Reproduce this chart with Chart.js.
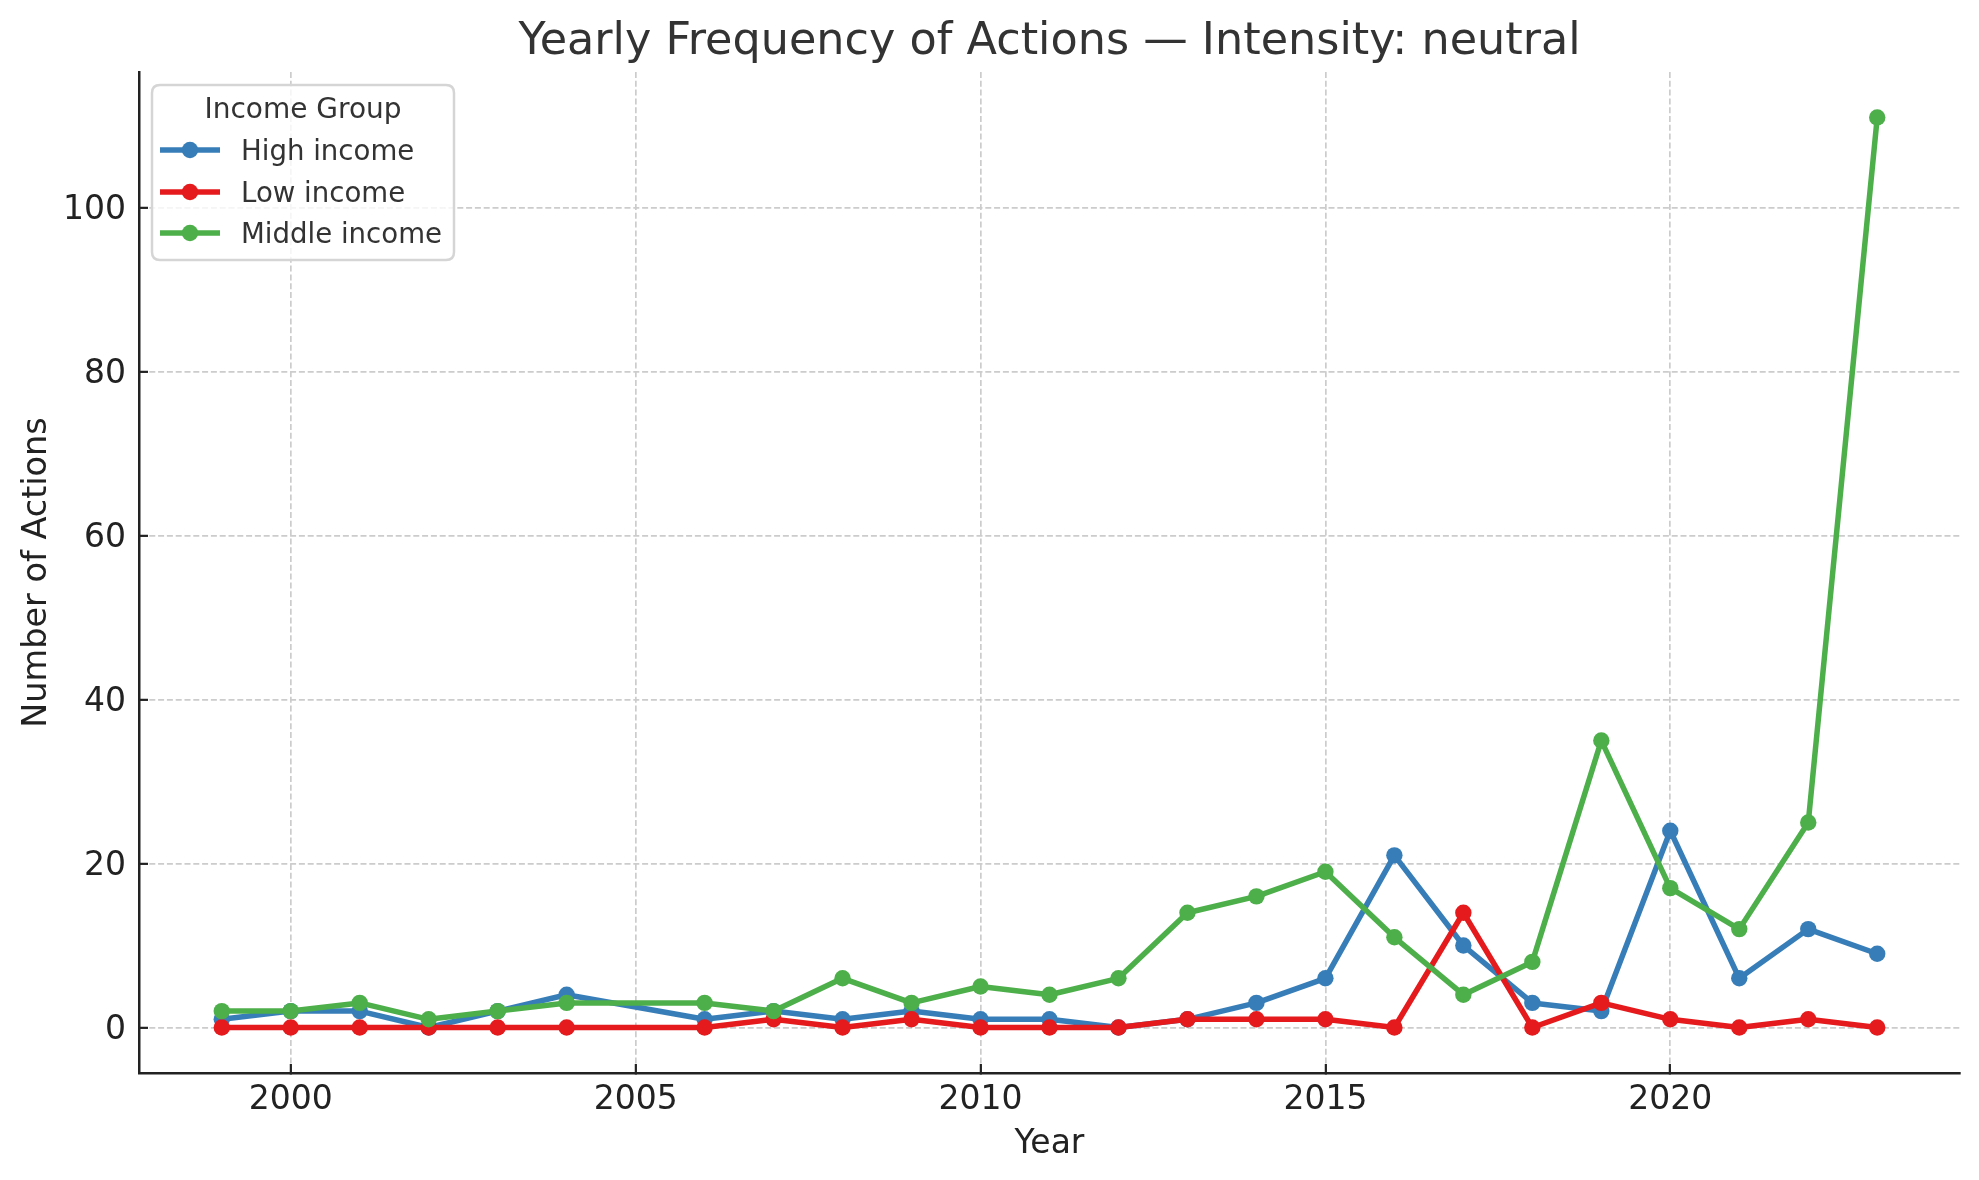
<!DOCTYPE html>
<html>
<head>
<meta charset="utf-8">
<script src="https://cdn.jsdelivr.net/npm/chart.js@4.4.1/dist/chart.umd.min.js"></script>
<style>
  html, body { margin: 0; padding: 0; background: #ffffff; }
  #c { display: block; }
</style>
</head>
<body>
<canvas id="c" width="1979" height="1180"></canvas>
<script>
// ---- data (2005 has no observation) ----
const years        = [1999,2000,2001,2002,2003,2004,2006,2007,2008,2009,2010,2011,2012,2013,2014,2015,2016,2017,2018,2019,2020,2021,2022,2023];
const highIncome   = [1,2,2,0,2,4,1,2,1,2,1,1,0,1,3,6,21,10,3,2,24,6,12,9];
const lowIncome    = [0,0,0,0,0,0,0,1,0,1,0,0,0,1,1,1,0,14,0,3,1,0,1,0];
const middleIncome = [2,2,3,1,2,3,3,2,6,3,5,4,6,14,16,19,11,4,8,35,17,12,25,111];
const seriesNames  = ['High income','Low income','Middle income'];
const xTickValues  = [2000,2005,2010,2015,2020];
const yTickValues  = [0,20,40,60,80,100];

const FONT = "'DejaVu Sans', 'Liberation Sans', sans-serif";
const colors = ['#377eb8', '#e41a1c', '#4daf4a'];

function pts(vals) { return years.map((x, i) => ({ x: x, y: vals[i] })); }

const seriesVals = [highIncome, lowIncome, middleIncome];
const datasets = seriesNames.map((name, i) => ({
  label: name,
  data: pts(seriesVals[i]),
  borderColor: colors[i],
  backgroundColor: colors[i],
  pointBackgroundColor: colors[i],
  pointBorderColor: colors[i],
  pointBorderWidth: 0,
  pointRadius: 8.2,
  pointHoverRadius: 8.2,
  borderWidth: 5.5,
  borderJoinStyle: 'round',
  tension: 0,
  fill: false,
  order: 3 - i
}));

const legendPlugin = {
  id: 'mplLegend',
  afterDatasetsDraw(chart) {
    const ctx = chart.ctx;
    const x0 = 152, y0 = 85, x1 = 454, y1 = 260, r = 8;
    ctx.save();
    ctx.beginPath();
    ctx.moveTo(x0 + r, y0);
    ctx.lineTo(x1 - r, y0);
    ctx.quadraticCurveTo(x1, y0, x1, y0 + r);
    ctx.lineTo(x1, y1 - r);
    ctx.quadraticCurveTo(x1, y1, x1 - r, y1);
    ctx.lineTo(x0 + r, y1);
    ctx.quadraticCurveTo(x0, y1, x0, y1 - r);
    ctx.lineTo(x0, y0 + r);
    ctx.quadraticCurveTo(x0, y0, x0 + r, y0);
    ctx.closePath();
    ctx.fillStyle = 'rgba(255,255,255,0.8)';
    ctx.fill();
    ctx.lineWidth = 2.5;
    ctx.strokeStyle = '#d5d5d5';
    ctx.stroke();

    ctx.fillStyle = '#333333';
    ctx.font = '28px ' + FONT;
    ctx.textAlign = 'center';
    ctx.textBaseline = 'middle';
    ctx.fillText('Income Group', (x0 + x1) / 2, 111);

    ctx.font = '27.6px ' + FONT;
    const rows = [150, 192, 233];
    chart.data.datasets.forEach((ds, i) => {
      const y = rows[i];
      ctx.strokeStyle = ds.borderColor;
      ctx.lineWidth = 5.5;
      ctx.beginPath();
      ctx.moveTo(160, y);
      ctx.lineTo(220, y);
      ctx.stroke();
      ctx.fillStyle = ds.borderColor;
      ctx.beginPath();
      ctx.arc(190, y, 8.2, 0, Math.PI * 2);
      ctx.fill();
      ctx.fillStyle = '#333333';
      ctx.textAlign = 'left';
      ctx.fillText(ds.label, 241, y + 3);
    });
    ctx.restore();
  }
};

const gridOpts = {
  color: '#cccccc',
  lineWidth: 1.7,
  drawTicks: true,
  tickLength: -9,
  tickColor: '#222222',
  tickWidth: 2.2,
  tickBorderDash: []
};
const borderOpts = { display: true, color: '#222222', width: 2.5, dash: [6, 2.8] };

new Chart(document.getElementById('c'), {
  type: 'line',
  data: { datasets: datasets },
  plugins: [legendPlugin],
  options: {
    responsive: false,
    devicePixelRatio: 1,
    animation: false,
    layout: { padding: { left: 0, right: 19, top: 0, bottom: 0 } },
    plugins: {
      legend: { display: false },
      tooltip: { enabled: false },
      title: {
        display: true,
        fullSize: false,
        text: 'Yearly Frequency of Actions \u2014 Intensity: neutral',
        color: '#333333',
        font: { family: FONT, size: 44.5, weight: 'normal', lineHeight: 1.2 },
        padding: { top: 15.6, bottom: 3.0 }
      }
    },
    scales: {
      x: {
        type: 'linear',
        position: 'bottom',
        min: 1997.8,
        max: 2024.2,
        afterBuildTicks: s => { s.ticks = xTickValues.map(v => ({ value: v })); },
        afterFit: s => { s.height = 107; },
        ticks: {
          callback: v => String(v),
          color: '#222222',
          font: { family: FONT, size: 33 },
          padding: 17,
          maxRotation: 0,
          autoSkip: false
        },
        grid: Object.assign({}, gridOpts),
        border: Object.assign({}, borderOpts),
        title: {
          display: true,
          text: 'Year',
          color: '#222222',
          font: { family: FONT, size: 33, lineHeight: 1.2 },
          padding: { top: 0, bottom: 15.5 }
        }
      },
      y: {
        type: 'linear',
        position: 'left',
        min: -5.55,
        max: 116.55,
        afterBuildTicks: s => { s.ticks = yTickValues.map(v => ({ value: v })); },
        afterFit: s => { s.width = 139; },
        ticks: {
          callback: v => String(v),
          color: '#222222',
          font: { family: FONT, size: 33 },
          padding: 22,
          labelOffset: 2.5
        },
        grid: Object.assign({}, gridOpts),
        border: Object.assign({}, borderOpts),
        title: {
          display: true,
          text: 'Number of Actions',
          color: '#222222',
          font: { family: FONT, size: 33.5, lineHeight: 1.2 },
          padding: { top: 17.3, bottom: 0 }
        }
      }
    }
  }
});
</script>
</body>
</html>
